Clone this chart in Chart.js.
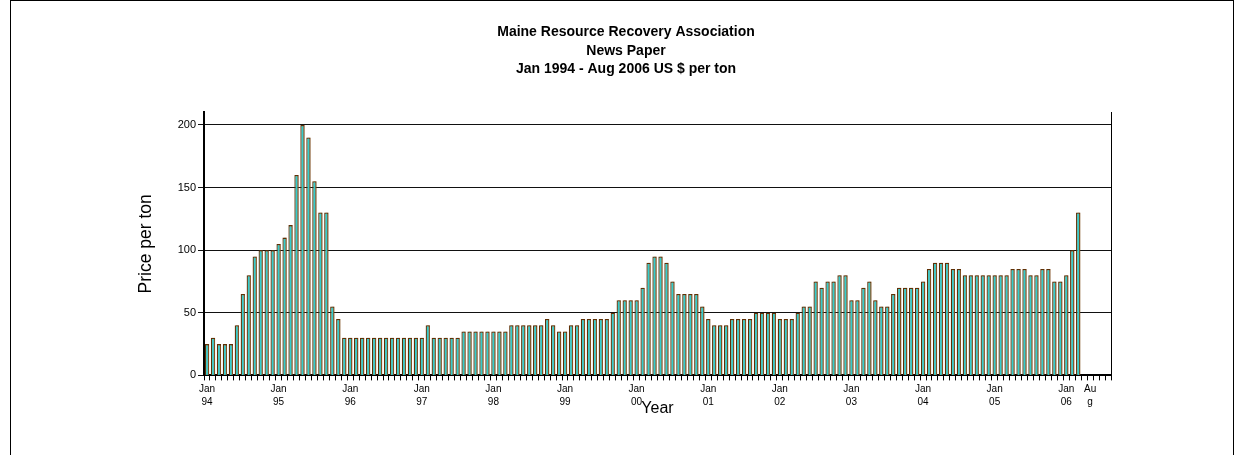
<!DOCTYPE html>
<html>
<head>
<meta charset="utf-8">
<script src="https://cdn.jsdelivr.net/npm/chart.js@4.4.1/dist/chart.umd.min.js"></script>
<style>
  html, body { margin: 0; padding: 0; background: #fff; overflow: hidden; }
  #frame { position: absolute; left: 10px; top: 0; width: 1222px; height: 470px; border: 1px solid #000; }
  #box { width: 1222px; height: 455px; }
</style>
</head>
<body>
<div id="frame"><div id="box"><canvas id="chart"></canvas></div></div>
<script>
// Monthly price, US $ per ton (Jan..Dec each year)
const p1994 = [25, 30, 25, 25, 25, 40, 65, 80, 95, 100, 100, 100];
const p1995 = [105, 110, 120, 160, 200, 190, 155, 130, 130, 55, 45, 30];
const p1996 = [30, 30, 30, 30, 30, 30, 30, 30, 30, 30, 30, 30];
const p1997 = [30, 40, 30, 30, 30, 30, 30, 35, 35, 35, 35, 35];
const p1998 = [35, 35, 35, 40, 40, 40, 40, 40, 40, 45, 40, 35];
const p1999 = [35, 40, 40, 45, 45, 45, 45, 45, 50, 60, 60, 60];
const p2000 = [60, 70, 90, 95, 95, 90, 75, 65, 65, 65, 65, 55];
const p2001 = [45, 40, 40, 40, 45, 45, 45, 45, 50, 50, 50, 50];
const p2002 = [45, 45, 45, 50, 55, 55, 75, 70, 75, 75, 80, 80];
const p2003 = [60, 60, 70, 75, 60, 55, 55, 65, 70, 70, 70, 70];
const p2004 = [75, 85, 90, 90, 90, 85, 85, 80, 80, 80, 80, 80];
const p2005 = [80, 80, 80, 85, 85, 85, 80, 80, 85, 85, 75, 75];
const p2006 = [80, 100, 130, null, null, null, null, null];

const yearTicks = ['94', '95', '96', '97', '98', '99', '00', '01', '02', '03', '04', '05', '06'];
const endLabel = ['Au', 'g'];
const endLabelIndex = 148;

const prices = [].concat(p1994, p1995, p1996, p1997, p1998, p1999, p2000,
    p2001, p2002, p2003, p2004, p2005, p2006);

const labels = prices.map((v, i) => {
    if (i % 12 === 0) return ['Jan', yearTicks[i / 12]];
    if (i === endLabelIndex) return endLabel;
    return '';
});

Chart.defaults.font.family = "'Liberation Sans', Arial, sans-serif";
Chart.defaults.color = '#000';

// soft tan shadow to the right of each bar, like the old 3D-ish bars
const barShadow = {
    id: 'barShadow',
    beforeDatasetsDraw(chart) {
        const c = chart.ctx;
        c.save();
        c.shadowColor = 'rgba(150,100,50,0.6)';
        c.shadowOffsetX = 1.5;
        c.shadowOffsetY = 0;
        c.shadowBlur = 0;
    },
    afterDatasetsDraw(chart) {
        chart.ctx.restore();
    }
};

const ctx = document.getElementById('chart').getContext('2d');
const chart = new Chart(ctx, {
    type: 'bar',
    data: {
        labels: labels,
        datasets: [{
            label: 'Price per ton',
            data: prices,
            backgroundColor: '#33CCCC',
            borderColor: '#5E3006',
            borderWidth: 1.3,
            borderSkipped: 'bottom',
            barPercentage: 0.72,
            categoryPercentage: 1.0
        }]
    },
    options: {
        responsive: true,
        maintainAspectRatio: false,
        animation: false,
        layout: { padding: { left: 122, right: 114, top: 0, bottom: 34 } },
        plugins: {
            legend: { display: false },
            tooltip: { enabled: false },
            title: {
                display: true,
                text: ['Maine Resource Recovery Association', 'News Paper', 'Jan 1994 - Aug 2006 US $ per ton'],
                font: { size: 14, weight: 'bold', lineHeight: 1.33 },
                color: '#000',
                padding: { top: 22, bottom: 33.5 }
            }
        },
        scales: {
            x: {
                grid: { drawOnChartArea: false, drawTicks: true, tickLength: 5, color: '#000', offset: true },
                border: { color: '#000', width: 2 },
                ticks: { autoSkip: false, maxRotation: 0, minRotation: 0, padding: 2, font: { size: 10, lineHeight: 1.35 }, color: '#000' },
                title: { display: true, text: 'Year', font: { size: 16 }, color: '#000', padding: { top: 4, bottom: 4 } },
                afterFit: (s) => { s.height = 46.6; }
            },
            y: {
                min: 0,
                max: 210,
                ticks: { stepSize: 50, includeBounds: false, padding: 2, font: { size: 11 }, color: '#000' },
                grid: { color: '#111', lineWidth: 1, tickLength: 6 },
                border: { color: '#000', width: 2 },
                title: { display: true, text: 'Price per ton', font: { size: 17.5 }, color: '#000', padding: { top: 3, bottom: 4 } },
                afterFit: (s) => { s.width = 71; }
            },
            y2: {
                position: 'right',
                display: true,
                grid: { drawOnChartArea: false, drawTicks: false },
                border: { color: '#000', width: 1 },
                ticks: { display: false },
                afterFit: (s) => { s.width = 8; }
            }
        }
    },
    plugins: [barShadow]
});
</script>
</body>
</html>
